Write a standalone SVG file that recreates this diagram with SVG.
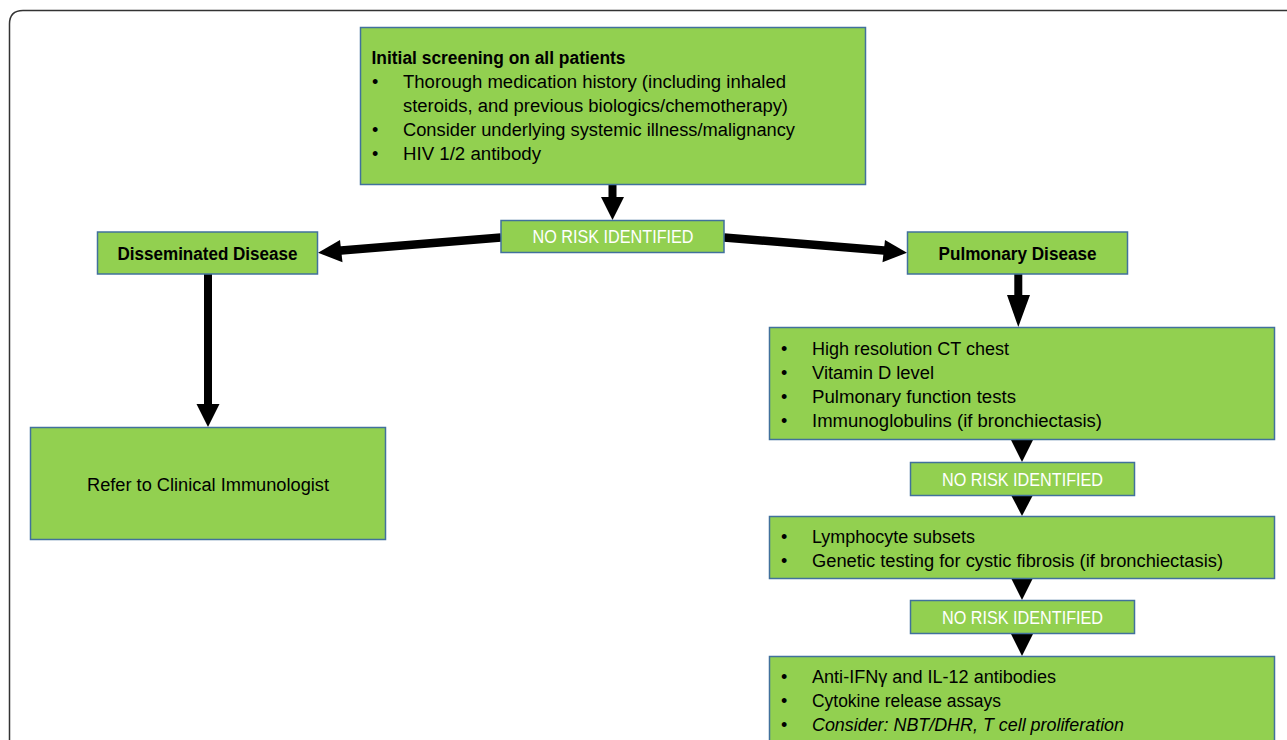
<svg xmlns="http://www.w3.org/2000/svg" width="1287" height="740" viewBox="0 0 1287 740">
<style>
.box{fill:#92D050;stroke:#41719C;stroke-width:1.5}
.t{font-family:"Liberation Sans",Arial,sans-serif;font-size:18px;fill:#000}
.b{font-weight:bold}
.w{fill:#fff}
.i{font-style:italic}
.arr{fill:#000}
</style>
<rect x="0" y="0" width="1287" height="740" fill="#fff"/>
<path d="M9.5,742 L9.5,24 Q9.5,10.5 23,10.5 L1290,10.5" fill="none" stroke="#333" stroke-width="1.5"/>

<g id="connectors">
  <polygon class="arr" points="608.5,184 616.5,184 616.5,197 624,197 612.5,220 601,197 608.5,197"/>
  <line x1="501" y1="237.5" x2="338" y2="250.8" stroke="#000" stroke-width="8.5"/>
  <polygon class="arr" points="318,252.7 340,240 342.5,262.3"/>
  <line x1="724" y1="237.5" x2="887" y2="250.8" stroke="#000" stroke-width="8.5"/>
  <polygon class="arr" points="907,252.7 885,240 882.5,262.3"/>
  <polygon class="arr" points="204,274 212,274 212,404 219.5,404 208,427 196.5,404 204,404"/>
  <polygon class="arr" points="1014.3,274 1022.3,274 1022.3,295 1030,295 1018.3,327 1007,295 1014.3,295"/>
  <polygon class="arr" points="1011,440 1033,440 1022,462"/>
  <polygon class="arr" points="1011,495 1033,495 1022,516"/>
  <polygon class="arr" points="1011,578 1033,578 1022,600"/>
  <polygon class="arr" points="1011,634 1033,634 1022,656"/>
</g>

<g id="node-initial">
  <rect class="box" x="360.5" y="27.5" width="505" height="157"/>
  <text class="t b" x="371.5" y="64" textLength="254" lengthAdjust="spacingAndGlyphs">Initial screening on all patients</text>
  <text class="t" x="372" y="88">•</text>
  <text class="t" x="403" y="88" textLength="383" lengthAdjust="spacingAndGlyphs">Thorough medication history (including inhaled</text>
  <text class="t" x="403" y="112" textLength="385" lengthAdjust="spacingAndGlyphs">steroids, and previous biologics/chemotherapy)</text>
  <text class="t" x="372" y="136">•</text>
  <text class="t" x="403" y="136" textLength="392" lengthAdjust="spacingAndGlyphs">Consider underlying systemic illness/malignancy</text>
  <text class="t" x="372" y="160">•</text>
  <text class="t" x="403" y="160" textLength="138" lengthAdjust="spacingAndGlyphs">HIV 1/2 antibody</text>
</g>

<g id="node-norisk1">
  <rect class="box" x="501" y="220.5" width="223" height="32"/>
  <text class="t w" x="613" y="243" text-anchor="middle" textLength="161" lengthAdjust="spacingAndGlyphs">NO RISK IDENTIFIED</text>
</g>

<g id="node-disseminated">
  <rect class="box" x="97.5" y="232" width="220" height="42"/>
  <text class="t b" x="207.5" y="260" text-anchor="middle" textLength="180" lengthAdjust="spacingAndGlyphs">Disseminated Disease</text>
</g>

<g id="node-pulmonary">
  <rect class="box" x="907.5" y="232" width="220" height="42"/>
  <text class="t b" x="1017.5" y="260" text-anchor="middle" textLength="158" lengthAdjust="spacingAndGlyphs">Pulmonary Disease</text>
</g>

<g id="node-refer">
  <rect class="box" x="30.5" y="427.5" width="355" height="112"/>
  <text class="t" x="208" y="491" text-anchor="middle" textLength="242" lengthAdjust="spacingAndGlyphs">Refer to Clinical Immunologist</text>
</g>

<g id="node-tests1">
  <rect class="box" x="769.5" y="327.5" width="505" height="112"/>
  <text class="t" x="781" y="355">•</text>
  <text class="t" x="812" y="355" textLength="197" lengthAdjust="spacingAndGlyphs">High resolution CT chest</text>
  <text class="t" x="781" y="379">•</text>
  <text class="t" x="812" y="379" textLength="122" lengthAdjust="spacingAndGlyphs">Vitamin D level</text>
  <text class="t" x="781" y="403">•</text>
  <text class="t" x="812" y="403" textLength="204" lengthAdjust="spacingAndGlyphs">Pulmonary function tests</text>
  <text class="t" x="781" y="427">•</text>
  <text class="t" x="812" y="427" textLength="290" lengthAdjust="spacingAndGlyphs">Immunoglobulins (if bronchiectasis)</text>
</g>

<g id="node-norisk2">
  <rect class="box" x="910.5" y="462.5" width="224" height="33"/>
  <text class="t w" x="1022.5" y="486" text-anchor="middle" textLength="161" lengthAdjust="spacingAndGlyphs">NO RISK IDENTIFIED</text>
</g>

<g id="node-tests2">
  <rect class="box" x="769.5" y="516.5" width="505" height="62"/>
  <text class="t" x="781" y="543">•</text>
  <text class="t" x="812" y="543" textLength="163" lengthAdjust="spacingAndGlyphs">Lymphocyte subsets</text>
  <text class="t" x="781" y="567">•</text>
  <text class="t" x="812" y="567" textLength="411" lengthAdjust="spacingAndGlyphs">Genetic testing for cystic fibrosis (if bronchiectasis)</text>
</g>

<g id="node-norisk3">
  <rect class="box" x="910.5" y="600.5" width="224" height="33"/>
  <text class="t w" x="1022.5" y="624" text-anchor="middle" textLength="161" lengthAdjust="spacingAndGlyphs">NO RISK IDENTIFIED</text>
</g>

<g id="node-tests3">
  <rect class="box" x="769.5" y="656.5" width="505" height="100"/>
  <text class="t" x="781" y="683">•</text>
  <text class="t" x="812" y="683" textLength="244" lengthAdjust="spacingAndGlyphs">Anti-IFNγ and IL-12 antibodies</text>
  <text class="t" x="781" y="707">•</text>
  <text class="t" x="812" y="707" textLength="189" lengthAdjust="spacingAndGlyphs">Cytokine release assays</text>
  <text class="t" x="781" y="731">•</text>
  <text class="t i" x="812" y="731" textLength="312" lengthAdjust="spacingAndGlyphs">Consider: NBT/DHR, T cell proliferation</text>
</g>
</svg>
